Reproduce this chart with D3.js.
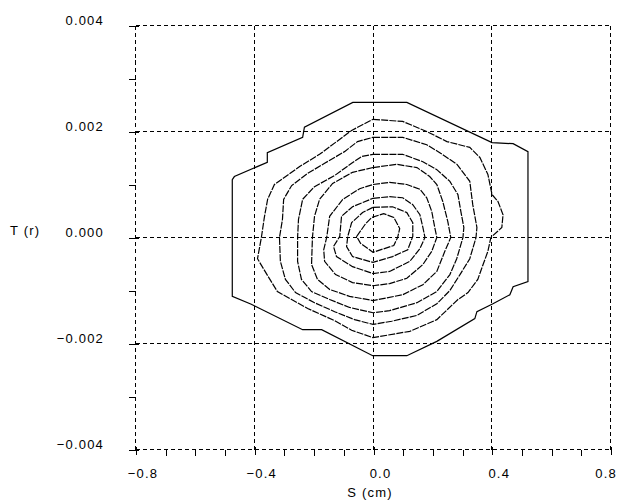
<!DOCTYPE html>
<html>
<head>
<meta charset="utf-8">
<script src="https://cdn.jsdelivr.net/npm/d3@7"></script>
<style>
  html, body { margin: 0; padding: 0; background: #fff; }
  svg { display: block; }
  text { font-family: "Liberation Sans", Arial, sans-serif; font-size: 13px; letter-spacing: 1.2px; fill: #000; }
</style>
</head>
<body>
<svg id="chart" width="619" height="502"></svg>
<script>
// ---- data ----
const xMajorTicks = [-0.8, -0.4, 0.0, 0.4, 0.8];
const xMinorTicks = [-0.7, -0.6, -0.5, -0.3, -0.2, -0.1, 0.1, 0.2, 0.3, 0.5, 0.6, 0.7];
const xTickLabels = ["\u22120.8", "\u22120.4", "0.0", "0.4", "0.8"];
const yMajorTicks = [-0.004, -0.002, 0.000, 0.002, 0.004];
const yMinorTicks = [-0.003, -0.001, 0.001, 0.003];
const yTickLabels = ["\u22120.004", "\u22120.002", "0.000", "0.002", "0.004"];
const xTitle = "S (cm)";
const yTitle = "T (r)";

// contour levels, outermost first: [S, T]
const contour1 = [[-0.068,0.00255],[0.114,0.00255],[0.401,0.00179],[0.472,0.00177],[0.522,0.00162],[0.522,-0.00083],[0.472,-0.00093],[0.461,-0.00108],[0.404,-0.00125],[0.350,-0.00140],[0.343,-0.00153],[0.215,-0.00196],[0.114,-0.00223],[-0.001,-0.00223],[-0.173,-0.00174],[-0.237,-0.00174],[-0.410,-0.00126],[-0.474,-0.00111],[-0.474,0.00109],[-0.467,0.00115],[-0.356,0.00142],[-0.356,0.00160],[-0.237,0.00189],[-0.231,0.00208]];
const contour2 = [[0.000,0.00223],[0.100,0.00219],[0.181,0.00200],[0.249,0.00181],[0.326,0.00170],[0.360,0.00151],[0.387,0.00119],[0.401,0.00081],[0.421,0.00068],[0.438,0.00043],[0.434,0.00019],[0.397,0.00000],[0.387,-0.00026],[0.367,-0.00057],[0.353,-0.00079],[0.320,-0.00104],[0.286,-0.00117],[0.215,-0.00155],[0.124,-0.00177],[0.000,-0.00189],[-0.072,-0.00175],[-0.129,-0.00157],[-0.220,-0.00134],[-0.322,-0.00102],[-0.355,-0.00072],[-0.389,-0.00040],[-0.376,0.00000],[-0.366,0.00038],[-0.355,0.00072],[-0.332,0.00100],[-0.247,0.00134],[-0.180,0.00157],[-0.072,0.00202]];
const contour3 = [[0.000,0.00189],[0.100,0.00189],[0.181,0.00175],[0.225,0.00160],[0.283,0.00138],[0.326,0.00106],[0.336,0.00062],[0.350,0.00019],[0.347,0.00000],[0.326,-0.00040],[0.293,-0.00070],[0.259,-0.00100],[0.215,-0.00125],[0.148,-0.00147],[0.063,-0.00158],[0.000,-0.00164],[-0.062,-0.00155],[-0.129,-0.00140],[-0.197,-0.00123],[-0.261,-0.00104],[-0.295,-0.00079],[-0.312,-0.00045],[-0.315,0.00000],[-0.305,0.00034],[-0.301,0.00072],[-0.274,0.00098],[-0.220,0.00121],[-0.163,0.00140],[-0.096,0.00162],[-0.052,0.00181]];
const contour4 = [[0.000,0.00157],[0.100,0.00157],[0.168,0.00143],[0.215,0.00128],[0.259,0.00106],[0.286,0.00081],[0.296,0.00049],[0.306,0.00019],[0.303,0.00000],[0.282,-0.00040],[0.259,-0.00070],[0.215,-0.00102],[0.148,-0.00123],[0.056,-0.00138],[0.000,-0.00142],[-0.079,-0.00132],[-0.146,-0.00117],[-0.207,-0.00102],[-0.241,-0.00079],[-0.254,-0.00045],[-0.254,0.00000],[-0.251,0.00034],[-0.237,0.00072],[-0.197,0.00096],[-0.129,0.00117],[-0.072,0.00140],[-0.038,0.00153]];
const contour5 = [[0.000,0.00132],[0.080,0.00138],[0.148,0.00132],[0.191,0.00115],[0.215,0.00100],[0.235,0.00068],[0.252,0.00030],[0.262,0.00000],[0.242,-0.00026],[0.215,-0.00064],[0.168,-0.00089],[0.100,-0.00108],[0.000,-0.00119],[-0.079,-0.00111],[-0.146,-0.00098],[-0.187,-0.00079],[-0.207,-0.00051],[-0.204,0.00000],[-0.197,0.00040],[-0.180,0.00072],[-0.136,0.00102],[-0.069,0.00123]];
const contour6 = [[0.000,0.00100],[0.056,0.00104],[0.114,0.00100],[0.158,0.00091],[0.181,0.00075],[0.198,0.00049],[0.208,0.00019],[0.215,0.00000],[0.198,-0.00026],[0.168,-0.00051],[0.114,-0.00077],[0.056,-0.00087],[0.000,-0.00091],[-0.069,-0.00085],[-0.126,-0.00070],[-0.163,-0.00045],[-0.166,-0.00023],[-0.156,0.00000],[-0.146,0.00040],[-0.102,0.00072],[-0.045,0.00092]];
const contour7 = [[0.000,0.00074],[0.056,0.00077],[0.100,0.00075],[0.134,0.00062],[0.158,0.00043],[0.168,0.00019],[0.175,0.00000],[0.158,-0.00021],[0.124,-0.00045],[0.056,-0.00064],[0.000,-0.00068],[-0.069,-0.00055],[-0.123,-0.00036],[-0.133,-0.00017],[-0.112,0.00002],[-0.106,0.00040],[-0.069,0.00058]];
const contour8 = [[0.000,0.00057],[0.066,0.00058],[0.114,0.00047],[0.134,0.00028],[0.134,0.00002],[0.117,-0.00023],[0.066,-0.00036],[0.000,-0.00047],[-0.069,-0.00036],[-0.089,-0.00017],[-0.085,0.00002],[-0.072,0.00028],[-0.035,0.00047]];
const contour9 = [[-0.055,0.00002],[-0.025,0.00026],[-0.004,0.00038],[0.036,0.00045],[0.070,0.00038],[0.090,0.00017],[0.083,0.00000],[0.070,-0.00015],[0.000,-0.00028],[-0.042,-0.00011]];
const contours = [contour1, contour2, contour3, contour4, contour5, contour6, contour7, contour8, contour9];

// ---- drawing ----
const svg = d3.select("#chart");
const x = d3.scaleLinear().domain([-0.8, 0.8]).range([135.5, 610.5]);
const y = d3.scaleLinear().domain([-0.004, 0.004]).range([449.5, 25.5]);
const px = v => Math.round(x(v) - 0.5) + 0.5;
const py = v => Math.round(y(v) - 0.5) + 0.5;

// dashed grid (including frame)
const grid = svg.append("g").attr("stroke", "#000").attr("stroke-width", 1)
  .attr("stroke-dasharray", "4,3").attr("shape-rendering", "crispEdges");
grid.selectAll("line.vx").data(xMajorTicks).join("line")
  .attr("x1", d => px(d)).attr("x2", d => px(d))
  .attr("y1", py(0.004)).attr("y2", py(-0.004));
grid.selectAll("line.hy").data(yMajorTicks).join("line")
  .attr("class", "hy")
  .attr("y1", d => py(d)).attr("y2", d => py(d))
  .attr("x1", px(-0.8)).attr("x2", px(0.8));

// axes (ticks only) via d3 axis generators
const bottomY = py(-0.004), leftX = px(-0.8);
const xMinorAxis = d3.axisBottom(x).tickValues(xMinorTicks).tickSize(6).tickFormat("");
const xMajorAxis = d3.axisBottom(x).tickValues(xMajorTicks).tickSize(5).tickFormat("");
const yMinorAxis = d3.axisLeft(y).tickValues(yMinorTicks).tickSize(7).tickFormat("");
const yMajorAxis = d3.axisLeft(y).tickValues(yMajorTicks).tickSize(7).tickFormat("");

function styleAxis(g) {
  g.select(".domain").remove();
  g.selectAll("line").attr("stroke", "#000").attr("shape-rendering", "crispEdges");
}
svg.append("g").attr("transform", `translate(0.5,${bottomY})`).call(xMinorAxis).call(styleAxis);
svg.append("g").attr("transform", `translate(0.5,${bottomY})`).call(xMajorAxis).call(styleAxis)
  .selectAll("line").attr("y1", -3);
svg.append("g").attr("transform", `translate(${leftX},0.5)`).call(yMinorAxis).call(styleAxis);
svg.append("g").attr("transform", `translate(${leftX},0.5)`).call(yMajorAxis).call(styleAxis)
  .selectAll("line").attr("x1", 3);

// tick labels
const xl = svg.append("g").selectAll("text").data(xMajorTicks).join("text")
  .attr("x", d => x(d) + 7.5).attr("y", 478)
  .attr("text-anchor", "middle")
  .text((d, i) => xTickLabels[i]);
xl.each(function() {
  const b = this.getBBox();
  if (b.x + b.width > 617) d3.select(this).attr("x", +d3.select(this).attr("x") - (b.x + b.width - 617));
});
svg.append("g").selectAll("text").data(yMajorTicks).join("text")
  .attr("x", 104).attr("y", d => y(d) - 1)
  .attr("text-anchor", "end")
  .text((d, i) => yTickLabels[i]);

// axis titles
svg.append("text").attr("x", 370).attr("y", 497).attr("text-anchor", "middle").text(xTitle);
svg.append("text").attr("x", 10).attr("y", 235).attr("text-anchor", "start").text(yTitle);

// contours
const line = d3.line().x(d => x(d[0])).y(d => y(d[1])).curve(d3.curveLinearClosed);
svg.append("g").selectAll("path").data(contours).join("path")
  .attr("d", line)
  .attr("fill", "none")
  .attr("stroke", "#000")
  .attr("stroke-width", 1.2)
  .attr("stroke-dasharray", (d, i) => i === 0 ? null : "7,1.2");
</script>
</body>
</html>
